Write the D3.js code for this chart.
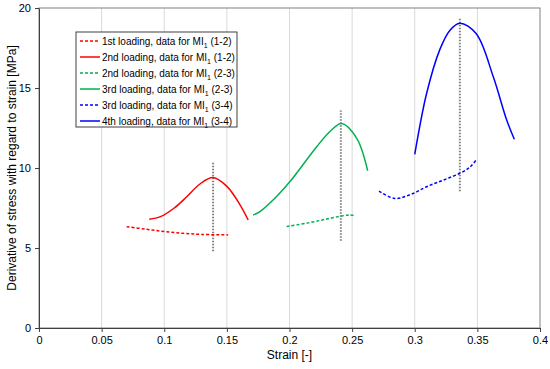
<!DOCTYPE html>
<html>
<head>
<meta charset="utf-8">
<script src="https://cdn.jsdelivr.net/npm/d3@7"></script>
<style>
  body { margin: 0; background: #fff; }
  svg { font-family: "Liberation Sans", Arial, sans-serif; }
</style>
</head>
<body>
<script>
// series: [strain, derivative]
var load1_12 = [[0.070,6.33],[0.085,6.18],[0.100,6.03],[0.115,5.92],[0.130,5.85],[0.151,5.82]];
var load2_12 = [[0.088,6.8],[0.097,6.96],[0.108,7.5],[0.118,8.2],[0.1285,9.0],[0.139,9.4],[0.150,8.85],[0.1605,7.7],[0.167,6.75]];
var load2_23 = [[0.1977,6.35],[0.215,6.57],[0.2297,6.81],[0.2417,7.0],[0.2483,7.07],[0.2523,7.02]];
var load3_23 = [[0.171,7.06],[0.177,7.31],[0.1895,8.2],[0.2004,9.15],[0.2217,11.33],[0.2325,12.3],[0.2417,12.78],[0.2537,11.85],[0.2624,9.83]];
var load3_34 = [[0.2715,8.55],[0.284,8.1],[0.297,8.35],[0.3095,8.83],[0.323,9.25],[0.336,9.67],[0.344,10.05],[0.3495,10.55]];
var load4_34 = [[0.300,10.85],[0.3095,14.67],[0.320,17.4],[0.328,18.6],[0.336,19.05],[0.349,18.4],[0.3627,15.7],[0.3734,13.0],[0.3795,11.8]];

// vertical dotted markers at the peaks
var peakX = [0.139, 0.241, 0.336];
var peakLow = [4.8, 5.45, 8.55];
var peakHigh = [10.4, 13.6, 19.4];

var xTicks = [0, 0.05, 0.1, 0.15, 0.2, 0.25, 0.3, 0.35, 0.4];
var yTicks = [0, 5, 10, 15, 20];

var legendNames = ["1st loading, data for MI", "2nd loading, data for MI", "2nd loading, data for MI",
                   "3rd loading, data for MI", "3rd loading, data for MI", "4th loading, data for MI"];
var legendTails = ["(1-2)", "(1-2)", "(2-3)", "(2-3)", "(3-4)", "(3-4)"];

var series = [
  {data: load1_12, color: "#ff0000", dashed: true},
  {data: load2_12, color: "#ff0000", dashed: false},
  {data: load2_23, color: "#00b050", dashed: true},
  {data: load3_23, color: "#00b050", dashed: false},
  {data: load3_34, color: "#0000ff", dashed: true},
  {data: load4_34, color: "#0000ff", dashed: false}
];

var w = 550, h = 369;
var m = {top: 8, right: 10, bottom: 41, left: 39};

var svg = d3.select("body").append("svg")
  .attr("width", w)
  .attr("height", h);

var x = d3.scaleLinear().domain([0, 0.4]).range([m.left, w - m.right]);
var y = d3.scaleLinear().domain([0, 20]).range([h - m.bottom, m.top]);

// vertical grid
svg.append("g")
  .selectAll("line")
  .data(xTicks.slice(1, -1))
  .enter().append("line")
  .attr("x1", function(d){ return x(d); })
  .attr("x2", function(d){ return x(d); })
  .attr("y1", y(0))
  .attr("y2", y(20))
  .style("stroke", "#d9d9d9")
  .style("stroke-width", 1);

// frame
svg.append("rect")
  .attr("x", x(0))
  .attr("y", y(20))
  .attr("width", x(0.4) - x(0))
  .attr("height", y(0) - y(20))
  .style("fill", "none")
  .style("stroke", "#808080")
  .style("stroke-width", 1);

var xAxis = svg.append("g")
  .attr("transform", "translate(0," + y(0) + ")")
  .call(d3.axisBottom(x).tickValues(xTicks).tickSize(4).tickSizeOuter(0).tickFormat(d3.format("")));

var yAxis = svg.append("g")
  .attr("transform", "translate(" + x(0) + ",0)")
  .call(d3.axisLeft(y).tickValues(yTicks).tickSize(4).tickSizeOuter(0));

[xAxis, yAxis].forEach(function(a){
  a.select(".domain").style("stroke", "#404040");
  a.selectAll(".tick line").style("stroke", "#404040");
  a.selectAll(".tick text")
    .style("font-size", "11px")
    .style("fill", "#000")
    .style("font-family", "Liberation Sans, Arial, sans-serif");
});
xAxis.selectAll(".tick text").attr("y", 8);
yAxis.selectAll(".tick text").attr("x", -8);

// axis titles
svg.append("text")
  .attr("x", x(0.2))
  .attr("y", 359)
  .attr("text-anchor", "middle")
  .style("font-size", "12px")
  .text("Strain [-]");

svg.append("text")
  .attr("transform", "translate(16," + y(10) + ") rotate(-90)")
  .attr("text-anchor", "middle")
  .style("font-size", "12px")
  .text("Derivative of stress with regard to strain [MPa]");

// dotted peak markers
svg.append("g")
  .selectAll("line")
  .data(peakX)
  .enter().append("line")
  .attr("x1", function(d){ return x(d); })
  .attr("x2", function(d){ return x(d); })
  .attr("y1", function(d, i){ return y(peakLow[i]); })
  .attr("y2", function(d, i){ return y(peakHigh[i]); })
  .style("stroke", "#7f7f7f")
  .style("stroke-width", 2)
  .style("stroke-dasharray", "1.5,1.5");

var line = d3.line()
  .x(function(d){ return x(d[0]); })
  .y(function(d){ return y(d[1]); })
  .curve(d3.curveCatmullRom.alpha(0.5));

svg.append("g")
  .selectAll("path")
  .data(series)
  .enter().append("path")
  .attr("d", function(d){ return line(d.data); })
  .style("fill", "none")
  .style("stroke", function(d){ return d.color; })
  .style("stroke-width", 1.5)
  .style("stroke-dasharray", function(d){ return d.dashed ? "3,2" : null; });

// legend
var lg = svg.append("g").attr("transform", "translate(76,32)");
lg.append("rect")
  .attr("width", 161)
  .attr("height", 95)
  .style("fill", "#fff")
  .style("stroke", "#404040")
  .style("stroke-width", 1);

var items = lg.selectAll(".item")
  .data(series)
  .enter().append("g")
  .attr("class", "item")
  .attr("transform", function(d, i){ return "translate(0," + (9 + i * 16) + ")"; });

items.append("line")
  .attr("x1", 4)
  .attr("x2", 24)
  .style("stroke", function(d){ return d.color; })
  .style("stroke-width", 1.5)
  .style("stroke-dasharray", function(d){ return d.dashed ? "3,2" : null; });

var lt = items.append("text")
  .attr("x", 26)
  .attr("y", 4)
  .style("font-size", "10px");
lt.append("tspan").text(function(d, i){ return legendNames[i]; });
lt.append("tspan").attr("dy", 3).style("font-size", "7px").text("1");
lt.append("tspan").attr("dy", -3).text(function(d, i){ return " " + legendTails[i]; });
</script>
</body>
</html>
